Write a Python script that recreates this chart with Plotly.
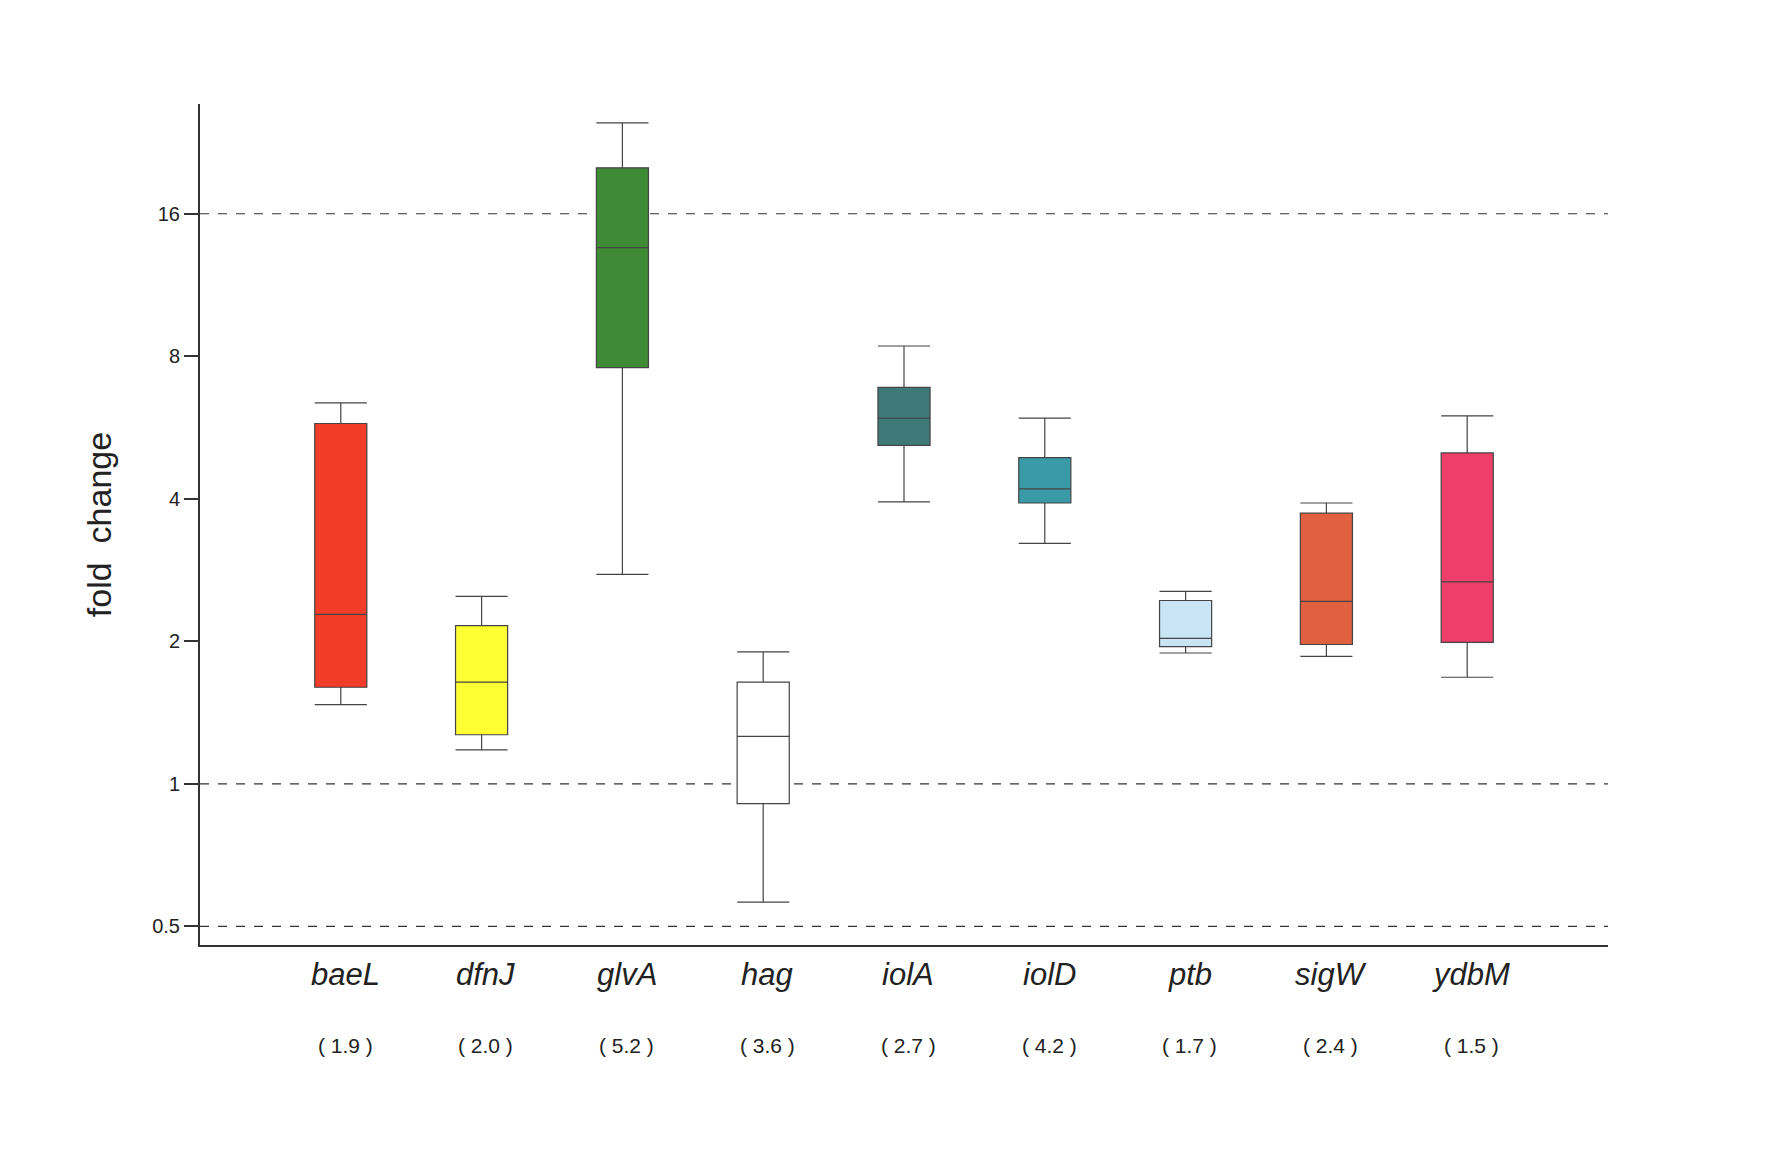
import plotly.graph_objects as go

genes = ["baeL", "dfnJ", "glvA", "hag", "iolA", "iolD", "ptb", "sigW", "ydbM"]
numbers = ["1.9", "2.0", "5.2", "3.6", "2.7", "4.2", "1.7", "2.4", "1.5"]
lower = [1.47, 1.18, 2.77, 0.563, 3.94, 3.22, 1.89, 1.86, 1.68]
q1 = [1.60, 1.27, 7.57, 0.909, 5.19, 3.92, 1.95, 1.97, 1.99]
median = [2.28, 1.64, 13.57, 1.26, 5.92, 4.20, 2.03, 2.43, 2.67]
q3 = [5.77, 2.16, 20.0, 1.64, 6.88, 4.89, 2.44, 3.73, 5.00]
upper = [6.38, 2.49, 24.9, 1.90, 8.41, 5.92, 2.55, 3.92, 5.99]
colors = ["#f03c28", "#ffff33", "#3f8a35", "#ffffff", "#3e7b78", "#3a9aa8",
          "#c8e4f5", "#e06040", "#ee3f6a"]
ytickvals = [0.5, 1, 2, 4, 8, 16]
dashed = [0.5, 1, 16]

fig = go.Figure()
for i, g in enumerate(genes):
    fig.add_trace(go.Box(
        x=[i], q1=[q1[i]], median=[median[i]], q3=[q3[i]],
        lowerfence=[lower[i]], upperfence=[upper[i]],
        fillcolor=colors[i], line=dict(color="#444444", width=1.2),
        width=0.37, whiskerwidth=1, showlegend=False, name=g))

for v in dashed:
    fig.add_shape(type="line", xref="x", yref="y", x0=-1, x1=9, y0=v, y1=v,
                  line=dict(color="#333333", width=1.2, dash="dash"), layer="below")

for i, g in enumerate(genes):
    fig.add_annotation(x=i + 0.03, y=-0.035, xref="x", yref="paper", yanchor="middle",
                       text=f"<i>{g}</i>", showarrow=False,
                       font=dict(size=31, color="#222", family="Liberation Sans"))
    fig.add_annotation(x=i + 0.03, y=-0.12, xref="x", yref="paper", yanchor="middle",
                       text=f"( {numbers[i]} )", showarrow=False,
                       font=dict(size=21, color="#222", family="Liberation Sans"))

fig.update_layout(
    width=1773, height=1155, plot_bgcolor="white", paper_bgcolor="white",
    margin=dict(l=192, r=173, t=96, b=218),
    font=dict(family="Liberation Sans", color="#222"),
    xaxis=dict(range=[-1, 9], showticklabels=False, ticks="", showgrid=False,
               zeroline=False, showline=True, linecolor="#333", linewidth=2),
    yaxis=dict(type="log", range=[-1.13 * 0.30103, 4.77 * 0.30103],
               tickvals=ytickvals, ticktext=["0.5", "1", "2", "4", "8", "16"],
               ticks="outside", ticklen=14, tickwidth=2, tickcolor="#333",
               tickfont=dict(size=20), showgrid=False, zeroline=False,
               showline=True, linecolor="#333", linewidth=2,
               title=dict(text="fold  change", font=dict(size=34), standoff=30)),
)
fig.write_html("out.html")
